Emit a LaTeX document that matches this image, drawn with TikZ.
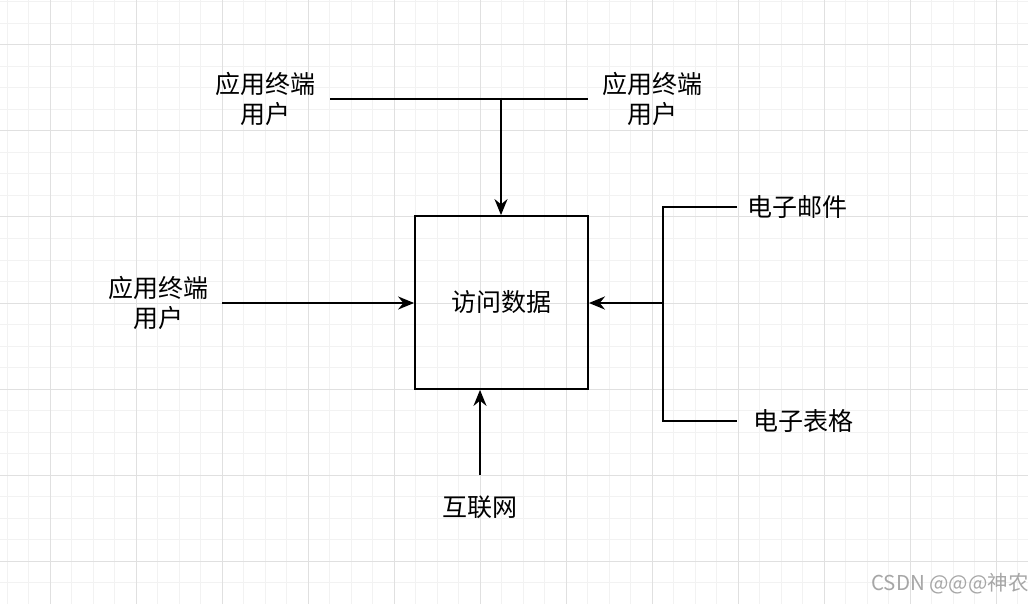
\documentclass[tikz,border=0pt]{standalone}
\usepackage{fontspec}
\newfontfamily\cjk{Noto Sans CJK SC}
\usetikzlibrary{arrows.meta,positioning}
\definecolor{gridminor}{RGB}{242,242,242}
\definecolor{gridmajor}{RGB}{224,224,224}
\begin{document}
\begin{tikzpicture}[x=1pt,y=-1pt,
    lbl/.style={align=center,font=\cjk\fontsize{25}{30}\selectfont,inner sep=0pt},
    link/.style={line width=1.8pt},
    arr/.style={link,-{Stealth[length=16pt,width=13pt]}}]
    % background and grid
    \useasboundingbox (0,0) rectangle (1028,604);
    \fill[white] (0,0) rectangle (1028,604);
    \foreach \i in {0,...,47} {
      \draw[gridminor,line width=1pt] ({7+21.5*\i},0) -- ({7+21.5*\i},604);
    }
    \foreach \i in {0,...,28} {
      \draw[gridminor,line width=1pt] (0,{2+21.5*\i}) -- (1028,{2+21.5*\i});
    }
    \foreach \i in {0,...,11} {
      \draw[gridmajor,line width=1pt] ({50+86*\i},0) -- ({50+86*\i},604);
    }
    \foreach \i in {0,...,6} {
      \draw[gridmajor,line width=1pt] (0,{45+86*\i}) -- (1028,{45+86*\i});
    }

    % box
    \node[lbl,draw,line width=1.8pt,minimum width=173pt,minimum height=173pt] (box) at (501.5,302.5) {访问数据};

    % top users
    \node[lbl] (topl) at (265,99) {应用终端\\用户};
    \node[lbl] (topr) at (652,99) {应用终端\\用户};
    \coordinate (ta) at (330,99);
    \coordinate (tb) at (588,99);
    \coordinate (tm) at (501,99);
    \draw[link] (ta) -- (tb);
    \draw[arr] (tm) -- (box.north -| tm);

    % left user
    \node[lbl] (left) at (158,303) {应用终端\\用户};
    \coordinate (la) at (222,303);
    \draw[arr] (la) -- (box.west |- la);

    % right sources
    \node[lbl] (mail) at (797,207) {电子邮件};
    \node[lbl] (sheet) at (803,421) {电子表格};
    \coordinate (ma) at (737,207);
    \coordinate (sa) at (737,421);
    \coordinate (mv) at (663,207);
    \coordinate (sv) at (663,421);
    \coordinate (rm) at (663,303);
    \draw[link] (ma) -- (mv) -- (sv) -- (sa);
    \draw[arr,line width=2.6pt] (rm) -- (box.east |- rm);

    % internet
    \node[lbl] (net) at (480,507) {互联网};
    \coordinate (na) at (480,475);
    \draw[arr] (na) -- (box.south -| na);

    % watermark
    \node[font=\cjk\fontsize{20.5}{24}\selectfont,text=black!35,inner sep=0pt] (wm) at (950,584) {CSDN @@@神农};
\end{tikzpicture}
\end{document}
